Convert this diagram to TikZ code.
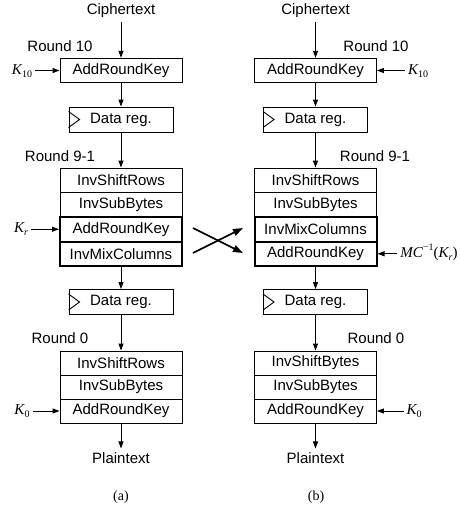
\documentclass[tikz,border=0pt]{standalone}
\usepackage{fontspec}
\setmainfont{Liberation Sans}
\newfontfamily\serf{Liberation Serif}
\usetikzlibrary{arrows.meta,calc}
\newcommand\klab[2]{{\serf\itshape #1}\raisebox{-0.35ex}{\serf\fontsize{10}{12}\selectfont #2}}
\newcommand\regtri[1]{\draw[line width=0.9pt] ($(#1.west)+(0,-8)$) -- ($(#1.west)+(11,0)$) -- ($(#1.west)+(0,8)$);}
\begin{document}
\begin{tikzpicture}[x=1pt,y=-1pt,
  every node/.style={font=\fontsize{15}{18}\selectfont, inner sep=0pt},
  blk/.style={draw, line width=0.9pt, minimum width=122pt, minimum height=24.5pt},
  blks/.style={blk, minimum height=24pt},
  thk/.style={blk, line width=2pt},
  reg/.style={draw, line width=0.9pt, minimum width=104pt, minimum height=25pt},
  io/.style={outer sep=4.5pt},
  klabel/.style={outer sep=3pt},
  rlabel/.style={},
  captxt/.style={font=\serf\fontsize{14}{16}\selectfont},
  conn/.style={line width=0.9pt, -{Triangle[length=7pt,width=5pt]}},
  crossarr/.style={line width=1.6pt, -{Triangle[length=10pt,width=7pt]}}]
\useasboundingbox (0,0) rectangle (459,509);

% ---------- left column (a) ----------
\node[io] (ct1) at (121,11) {Ciphertext};
\node[rlabel] (r10a) at (60,46) {Round 10};
\node[blk] (ark1) at (121,70.5) {AddRoundKey};
\node[klabel] (k10a) at (22,71) {\klab{K}{10}};
\node[reg] (dr1) at (121,119.5) {Data reg.};
\regtri{dr1}
\node[rlabel] (r91a) at (60,156) {Round 9-1};
\node[blk] (sr1) at (121,180.25) {InvShiftRows};
\node[blk] (sb1) at (121,204.75) {InvSubBytes};
\node[thk] (ak1) at (121,229.25) {AddRoundKey};
\node[thk] (mc1) at (121,253.75) {InvMixColumns};
\node[klabel] (kra) at (21,229) {\klab{K}{\itshape r}};
\node[reg] (dr2) at (121,302) {Data reg.};
\regtri{dr2}
\node[rlabel] (r0a) at (60,338) {Round 0};
\node[blks] (sr2) at (121,363) {InvShiftRows};
\node[blks] (sb2) at (121,387) {InvSubBytes};
\node[blks] (ak2) at (121,411) {AddRoundKey};
\node[klabel] (k0a) at (22,411) {\klab{K}{0}};
\node[io] (pt1) at (121,458.5) {Plaintext};
\node[captxt] (capa) at (121,497) {(a)};

\draw[conn] (ct1) -- (ark1);
\draw[conn] (k10a.east |- ark1.west) -- (ark1.west);
\draw[conn] (ark1) -- (dr1);
\draw[conn] (dr1) -- (sr1);
\draw[conn] (kra.east |- ak1.west) -- (ak1.west);
\draw[conn] (mc1) -- (dr2);
\draw[conn] (dr2) -- (sr2);
\draw[conn] (k0a.east |- ak2.west) -- (ak2.west);
\draw[conn] (ak2) -- (pt1);

% ---------- right column (b) ----------
\node[io] (ct2) at (315.5,11) {Ciphertext};
\node[rlabel] (r10b) at (376,46) {Round 10};
\node[blk] (ark2) at (315.5,70.5) {AddRoundKey};
\node[klabel] (k10b) at (418,71) {\klab{K}{10}};
\node[reg] (dr3) at (315.5,119.5) {Data reg.};
\regtri{dr3}
\node[rlabel] (r91b) at (375,156) {Round 9-1};
\node[blk] (sr3) at (315.5,180.25) {InvShiftRows};
\node[blk] (sb3) at (315.5,204.75) {InvSubBytes};
\node[thk] (mc3) at (315.5,229.25) {InvMixColumns};
\node[thk] (ak3) at (315.5,253.75) {AddRoundKey};
\node[klabel] (mck) at (429,252) {{\serf\itshape MC}\raisebox{0.9ex}{\serf\fontsize{10}{12}\selectfont −1}{\serf(}\klab{K}{\itshape r}{\serf)}};
\node[reg] (dr4) at (315.5,302) {Data reg.};
\regtri{dr4}
\node[rlabel] (r0b) at (376,338) {Round 0};
\node[blks] (sr4) at (315.5,363) {InvShiftBytes};
\node[blks] (sb4) at (315.5,387) {InvSubBytes};
\node[blks] (ak4) at (315.5,411) {AddRoundKey};
\node[klabel] (k0b) at (414,411) {\klab{K}{0}};
\node[io] (pt2) at (315.5,458.5) {Plaintext};
\node[captxt] (capb) at (316,497) {(b)};

\draw[conn] (ct2) -- (ark2);
\draw[conn] (k10b.west |- ark2.east) -- (ark2.east);
\draw[conn] (ark2) -- (dr3);
\draw[conn] (dr3) -- (sr3);
\draw[conn] (mck.west |- ak3.east) -- (ak3.east);
\draw[conn] (ak3) -- (dr4);
\draw[conn] (dr4) -- (sr4);
\draw[conn] (k0b.west |- ak4.east) -- (ak4.east);
\draw[conn] (ak4) -- (pt2);

% ---------- cross (swap) ----------
\coordinate (xa) at (193,228);
\coordinate (xb) at (243,253);
\coordinate (xc) at (193,253);
\coordinate (xd) at (243,228);
\draw[crossarr] (xa) -- (xb);
\draw[crossarr] (xc) -- (xd);
\end{tikzpicture}
\end{document}
